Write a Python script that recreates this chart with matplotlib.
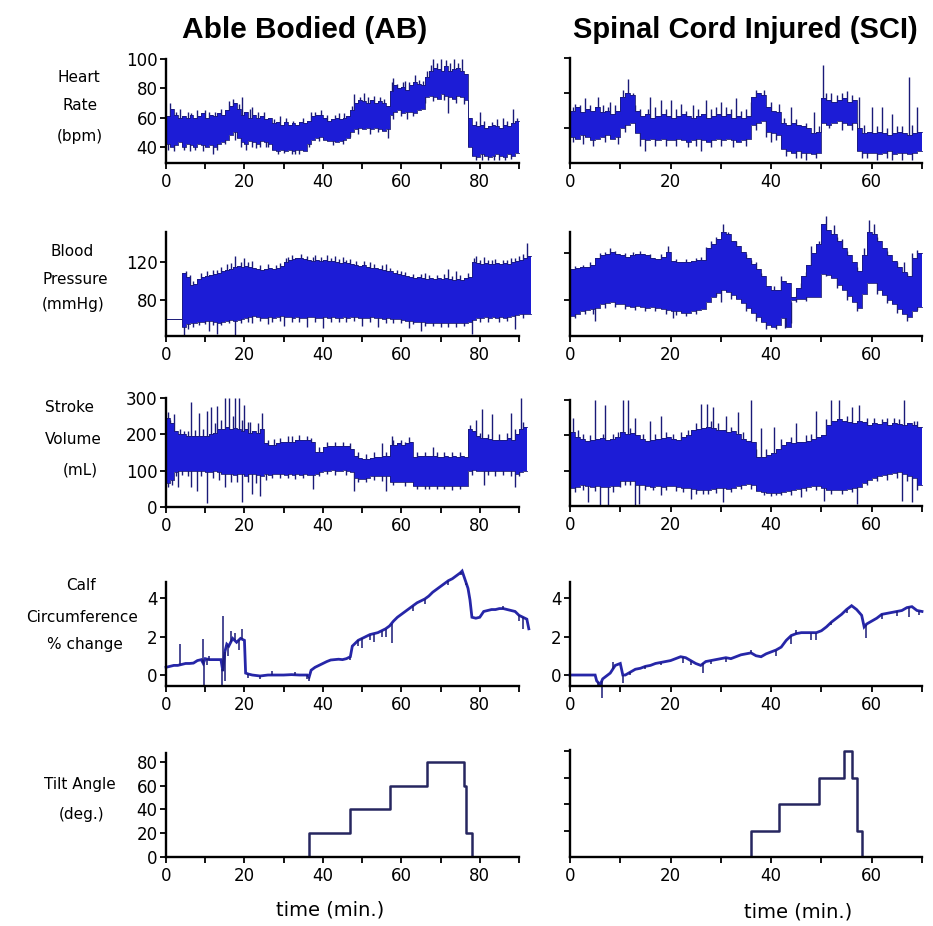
import numpy as np
import matplotlib
matplotlib.use("Agg")
import matplotlib.pyplot as plt
from matplotlib.ticker import FixedLocator

# ---------------- data ----------------
# Able Bodied, heart rate envelope per minute (t = 0..89)
hr_ab_hi = [61,66,62,60,61,60,62,60,61,63, 60,62,61,63,62,65,68,70,66,62,
            64,60,62,60,61,59,60,56,57,55, 57,55,56,55,57,56,58,61,62,62,
            60,58,59,60,59,60,61,65,70,72, 71,70,72,70,71,70,68,78,82,80,
            81,79,82,84,83,82,88,92,94,93, 92,95,92,93,94,92,90,60,55,54,
            55,53,54,55,54,53,55,54,56,58]
hr_ab_lo = [42,40,41,43,40,42,41,40,42,41, 40,41,40,42,43,45,48,50,46,43,
            42,44,43,42,44,43,42,38,37,38, 37,38,37,38,38,37,42,45,46,47,
            45,44,44,43,44,45,46,50,52,53, 52,53,52,53,52,51,52,62,64,65,
            63,64,64,63,65,66,74,75,74,73, 76,75,74,73,75,74,72,40,34,33,
            35,34,33,34,35,34,33,35,34,36]
hr_ab_spk_t = [1,3.5,8,12.5,17,19.5,22,25,29,38,44,48,50.5,53,58,61,63.5,68,70,71.5,73.5,75.5,80,86,88.5,
               12,20.5,23,26,34,56.5,61.5,72,82,85,
               2.5,5.5,6.5,10,11,14,16,18.5,21.5,23.5,27.5,30.5,32.5,35,37,39.5,41,43,45.5,47.5,49.5,51.5,54.5,55.5,
               57.5,59,60.5,62,64.5,65.5,66.5,67.5,69,72.5,74.5,79,81,83,84.5,87,89.5,
               0.5,2,4.5,6,7.5,9.5,13,15,17.5,19,22,24,25.5,28.5,30,32,33,36.5,39,42.5,45,47,49,52,54,58,60,63,
               66,68,71,74,76,79,80.5,83.5,86.5,88]
hr_ab_spk_v = [70,66,65,64,73,74,67,64,61,64,63,76,77,75,87,85,89,100,100,99,100,100,64,60,66,
               35,38,39,40,35,46,59,63,31,31,
               64,64,63,65,64,66,71,69,66,64,59,60,58,60,64,65,62,62,63,68,74,74,74,73,
               84,83,84,84,86,85,92,96,97,97,97,58,58,57,59,58,60,
               38,37,38,37,38,37,38,42,45,40,40,40,40,35,36,35,35,40,44,41,42,47,49,49,50,59,61,61,
               70,71,72,70,69,31,31,31,31,32]

# Spinal cord injured, heart rate (t = 0..69)
hr_sci_hi = [70,72,69,71,70,72,69,70,68,70, 78,80,79,70,67,68,66,67,68,67,
             66,67,68,67,66,67,68,66,67,68, 67,68,66,67,66,67,78,80,79,72,
             70,69,63,62,63,62,61,60,57,58, 77,76,75,76,77,75,76,60,57,58,
             57,58,57,56,57,58,57,56,57,58]
hr_sci_lo = [55,54,56,55,53,54,55,56,54,55, 60,62,63,57,54,53,54,53,54,53,
             53,54,53,52,53,54,53,52,53,54, 53,54,53,52,53,54,62,63,64,58,
             57,56,48,47,46,47,46,46,45,46, 63,62,63,64,63,62,63,47,46,46,
             46,45,46,47,45,46,46,45,46,47]
hr_sci_spk_t = [1,3,5.5,8,11.5,12.5,16,18,20,22,24.5,27,30,33,36,41.5,44,48.5,50.3,52,55,57.5,60,62,64,67.5,69,
                15,26,40,46,58,63,
                0.5,2,4,6.5,7.5,9,10.5,13,14,15.5,17,19,21,23,25.5,28,29,31,32,34,35,37,38.5,40,42.5,45,47,49.5,
                51,53,54,56,58.5,61,63,65,66,68,
                0.5,2.5,4.5,7,9.5,11,14,17,19,21,23.5,25,28,30,32.5,35,37,39,41,43,45,47,49,51.5,54,56,59,61,64,66,68]
hr_sci_spk_v = [74,77,78,75,88,80,78,76,76,74,73,76,75,77,75,74,72,69,96,80,81,78,72,72,68,89,72,
                47,47,52,43,43,43,
                72,73,73,73,72,73,82,73,71,71,72,71,71,70,71,71,72,72,71,70,71,82,82,75,66,65,63,61,
                80,79,80,79,62,61,60,61,61,62,
                52,51,50,52,51,58,50,50,50,50,49,50,49,50,49,50,59,55,53,44,43,42,43,60,59,59,43,42,42,42,42]

# Able Bodied, blood pressure (t = 0..92); first minutes flat before recording
bp_ab_hi = [61,61,61,61,108,104,96,97,102,104, 105,106,107,108,110,112,113,115,116,115,
            116,115,114,113,112,113,114,113,114,116, 120,122,123,124,124,123,122,121,122,121,
            122,121,121,120,119,120,119,118,117,116, 117,115,114,114,113,112,111,110,108,107,
            106,105,104,103,104,103,102,103,102,103, 102,103,102,101,102,101,103,104,120,119,
            118,119,118,118,119,118,119,118,120,121, 122,124,126]
bp_ab_lo = [61,61,61,61,52,55,56,57,58,58, 59,59,58,57,58,59,60,59,60,61,
            62,63,64,63,62,62,63,62,63,64, 63,63,62,63,62,62,63,63,62,62,
            63,62,63,62,62,63,62,63,63,62, 62,62,63,62,62,61,62,61,61,61,
            60,59,59,58,58,58,57,57,57,57, 57,56,57,56,57,56,57,58,60,62,
            62,63,62,63,62,63,62,63,64,65, 66,66,66]
bp_ab_spk_t = [6,14,15.5,17.5,20,22,29,31,33,38,41,43,45,47,52,56,60,66,72,74,79,81,83,87,89,92,
               4.5,11,13,17.5,22,26,30,36,40,50,54,62,65,70,78,89,
               5,7,9,10.5,12,13,16.5,19,21,24,26,28,30.5,32,34.5,36,37.5,39.5,42,44,46,48.5,50.5,53,55,57,59,
               61,63,65,67,69,71,73,75,77,78.5,80,82,84,86,88,90,91,
               5.5,7,8.5,10,12,14,16,19,21,24,27,29,32,34,38,42,44,46,48,52,56,58,60,63,66,68,72,74,76,80,82,85,87,91]
bp_ab_spk_v = [106,115,118,126,124,121,119,125,124,127,127,126,125,123,120,118,110,108,113,110,126,125,122,122,124,140,
               44,48,45,44,57,55,53,52,51,53,52,51,48,52,45,50,
               110,100,108,110,112,112,119,120,120,117,118,117,124,127,128,126,125,125,124,123,122,121,121,118,117,114,112,
               109,107,107,106,106,107,105,106,108,124,122,122,123,122,124,126,128,
               50,52,54,55,54,54,56,56,58,59,58,59,58,58,58,58,58,58,59,58,57,57,56,55,53,53,52,52,53,58,58,58,59,62]

# Spinal cord injured, blood pressure (t = 0..69)
bp_sci_hi = [106,107,108,108,110,116,118,119,121,119, 118,117,118,119,119,118,116,115,117,121,
             113,112,112,112,113,114,114,124,128,132, 138,136,130,126,121,116,111,106,100,92,
             88,88,96,94,82,90,100,110,120,128, 145,140,136,130,124,118,112,105,118,138,
             136,130,124,118,113,108,104,100,116,120]
bp_sci_lo = [66,68,70,71,72,73,76,77,78,76, 76,75,74,75,74,73,74,73,72,71,
             70,70,69,69,70,71,72,78,82,86, 88,87,84,81,77,73,69,65,61,58,
             57,58,64,57,80,81,81,82,82,82, 102,101,99,93,88,83,78,73,85,94,
             94,88,84,80,76,72,68,65,70,74]
bp_sci_spk_t = [8,19.5,27,30.5,37,40.5,42,48,49.5,51,52.5,54,59.5,60.5,66.5,68,
                5,20.5,30,42.7,44,51,
                1,2.5,4,6,7,9,11,12.5,14,16,18,21,23,25,26,28,29,31.5,33,35,36,38,46,47,53,55,57,58.5,61,63,65,67,69,
                1,3,4.5,7,9,11,13,15,17,19,21,23,25,29,32,35,37,39,41,45,47,53,55,57,61,63,65,67,69]
bp_sci_spk_v = [124,126,125,145,112,92,100,126,130,152,144,132,148,145,112,120,
                62,64,78,56,60,100,
                109,110,112,120,121,122,120,121,122,119,119,115,115,116,117,130,134,138,130,119,114,103,94,104,134,122,108,124,134,122,112,103,123,
                64,68,68,73,74,72,71,70,70,68,67,66,68,83,81,70,62,55,55,78,79,90,80,70,85,77,69,62,71]

# Able Bodied, stroke volume (t = 0..91)
sv_ab_hi = [245,230,210,200,200,195,195,195,195,195, 195,200,205,215,215,220,215,218,215,210,
            215,205,210,205,215,175,172,172,175,178, 180,180,178,185,185,185,185,180,150,152,
            165,168,168,168,168,168,168,160,140,135, 132,132,135,138,138,140,140,172,172,175,
            172,175,180,138,140,140,140,140,140,138, 138,140,138,140,138,140,138,215,210,195,
            190,190,188,185,185,185,185,190,185,200, 215,220]
sv_ab_lo = [65,75,95,98,100,98,100,98,100,98, 95,95,98,95,90,92,90,88,90,92,
            85,92,90,88,85,90,88,90,92,90, 88,90,88,90,88,90,88,88,92,95,
            100,100,102,100,100,102,100,95,80,78, 78,80,85,85,85,85,85,70,68,68,
            68,68,70,58,58,58,57,58,58,58, 58,58,57,58,58,57,58,100,102,100,
            100,100,100,100,98,100,100,100,98,90, 95,100]
sv_ab_spk_t = [0.5,2,6.5,8.5,10.5,11.5,13,15,16,17.5,18.5,20,21.5,24.5,31,37,55,57.5,61,68,79,80.5,83,88,90.5,
               1.5,3,6.5,8,10.5,15,19.5,22,24,37.5,48,56,66,81,89,
               1,3.5,4.5,5.5,7.5,9.5,12.5,14,17,19.5,21,23.5,26,27.5,29,32,34,36,39,41,43,45,47,49,51,53,56,
               58,60,62,64,66,69,71,73,75,77.5,80,82,85,87,89,91,
               0.5,2.5,4,5.5,9,12,13.5,16.5,18,21,23,25.5,27,29,31,33,35,39,41,43,46,49,51,53,55,58,61,64,67,69,
               71,73,75,78,82,84,86,88,90]
sv_ab_spk_v = [262,255,290,260,265,275,278,300,300,300,300,280,235,258,195,190,175,195,178,165,240,270,255,260,300,
               60,55,55,45,10,55,15,35,30,50,45,45,50,60,55,
               240,215,210,210,212,215,230,240,250,240,235,230,185,188,190,195,198,195,165,180,180,178,175,150,145,150,152,
               185,185,192,152,150,152,152,150,152,225,205,200,200,203,215,235,
               55,85,88,85,85,80,75,70,70,70,65,75,80,80,80,78,80,85,90,88,88,70,68,75,72,60,58,50,50,50,
               50,48,50,88,88,85,88,85,85]

# Spinal cord injured, stroke volume (t = 0..69)
sv_sci_hi = [210,195,190,185,188,190,192,188,190,195, 210,205,208,200,190,185,188,190,192,195,
             190,188,195,200,215,218,222,225,220,215, 215,210,212,205,190,185,180,138,140,145,
             150,162,172,180,178,182,180,185,190,195, 200,230,240,245,240,238,235,240,238,230,
             235,232,238,230,235,232,230,235,230,225]
sv_sci_lo = [50,55,60,58,55,56,55,55,56,58, 70,72,70,60,60,58,55,56,55,58,
             56,55,52,50,48,46,45,45,48,50, 50,48,52,58,60,62,60,42,40,38,
             38,38,40,42,45,48,50,55,56,58, 50,45,45,46,45,48,50,55,65,75,
             80,85,88,90,92,95,90,85,80,60]
sv_sci_spk_t = [0.5,5,7,10.5,11.5,13,16,18,26,27.2,28.5,31,33.5,36,38,40.5,45,49,52,53.5,56,57.5,62,66.5,68.5,
                3.5,6,7.5,13,13.8,18,24,30.5,41,46,50.5,57,66,68,
                1.5,2.5,4,6.5,8.5,9.5,12,14.5,17,19,20.5,22,23.5,25,28,29.5,32,34.5,37,39,42,44,47,48,51,55,59,60.5,
                63,64.5,65.5,69,
                1,2.5,5,8.5,10,11,12,15,16.5,19,21,22.5,25,26.5,27.5,29,32,34,36,38.5,40,42,44,47,49,52,54,56,59,61,
                63,65,67,69]
sv_sci_spk_v = [250,300,285,300,300,250,240,255,290,290,280,255,265,300,220,225,235,270,300,300,280,285,245,300,240,
                10,0,0,0,5,30,20,10,30,25,15,5,15,10,
                215,205,200,205,205,210,220,205,205,210,205,210,215,235,240,235,225,210,160,160,190,195,200,205,245,255,250,250,
                248,250,245,240,
                40,45,42,40,55,60,60,45,45,45,42,40,35,35,35,38,40,48,48,30,28,30,32,42,45,35,35,40,60,70,
                75,80,70,45]

# Calf circumference % change
calf_ab_t = [0,1,2,3,4,5,6,7,8,9,9.5,10,11,12,13,14,14.5,15,15.5,16,17,18,19,20,20.3,
             21,22,24,26,28,30,32,34,36,36.5,37,38,39,40,41,42,43,44,45,46,47,47.5,48,49,50,
             51,52,53,54,55,56,57,58,59,60,61,62,63,64,65,66,67,68,69,70,71,72,73,74,75,75.5,
             76,77,77.5,78,79,80,81,82,83,84,85,86,87,88,89,90,91,92,92.5]
calf_ab_v = [0.4,0.45,0.5,0.5,0.55,0.6,0.6,0.62,0.75,0.8,0.6,0.85,0.8,0.8,0.8,0.8,0.2,1.2,1.6,1.5,1.9,1.7,1.9,1.8,0.1,
             0.05,0.0,-0.05,0.0,0.0,0.0,0.02,0.0,0.0,-0.1,0.25,0.4,0.5,0.6,0.7,0.78,0.8,0.82,0.8,0.85,0.95,1.5,1.6,1.8,1.9,
             2.0,2.1,2.15,2.2,2.3,2.4,2.55,2.8,3.0,3.15,3.3,3.45,3.6,3.75,3.85,3.95,4.1,4.3,4.45,4.6,4.75,4.9,5.0,5.15,5.3,5.4,
             5.1,4.5,3.9,3.0,2.95,3.0,3.3,3.35,3.4,3.4,3.45,3.45,3.4,3.35,3.3,3.1,3.0,2.9,2.4]
calf_ab_spk_t = [3.5,9.5,9.6,14.5,14.4,15,16.5,19.5,36.5,47,50,53,55,57.5,86,91,
                 10.5,11,15.8,17.5,18.5,21,24,27,33,36,49,52,56,63,66,72,75.2,76.5,90]
calf_ab_spk_v = [1.6,1.85,-0.5,3.05,-0.55,-0.3,2.3,2.4,-0.3,0.8,1.4,1.7,2.0,1.65,3.6,2.4,
                 0.5,1.0,1.0,2.2,1.3,-0.15,-0.2,0.2,0.15,-0.2,1.5,1.8,2.0,3.3,3.7,4.7,5.2,4.7,2.8]

calf_sci_t = [0,5,5.3,6,6.5,7,8,9,10,10.5,11,12,13,14,15,16,17,18,19,20,21,22,23,24,25,26,27,28,29,30,
              31,32,33,34,35,36,37,38,39,40,41,42,43,44,45,46,47,48,49,50,51,52,53,54,55,56,57,58,58.5,
              59,60,61,62,63,64,65,66,67,68,69,70]
calf_sci_v = [0,0,-0.3,-0.5,-0.2,-0.1,0.1,0.5,0.6,0.0,0.0,0.15,0.3,0.35,0.45,0.5,0.6,0.65,0.7,0.75,0.85,0.95,0.9,0.75,0.6,0.5,0.7,0.75,0.8,0.85,
              0.9,0.85,0.95,1.05,1.1,1.15,1.0,0.95,1.1,1.2,1.3,1.45,1.8,2.05,2.15,2.2,2.2,2.2,2.2,2.3,2.5,2.75,2.95,3.15,3.4,3.6,3.4,3.1,2.5,
              2.65,2.8,2.95,3.15,3.2,3.25,3.3,3.35,3.5,3.55,3.35,3.3]
calf_sci_spk_t = [6.3,8.5,10.5,26.5,44,48,49,58.8,67.5,
                  5.5,12,15,18,22.5,24,28,31,36,41,45,52,55,62,65,69.5]
calf_sci_spk_v = [-1.2,0.7,-0.4,0.1,1.6,1.8,1.8,1.9,3.0,
                  -0.6,0.0,0.3,0.5,0.6,0.5,0.55,0.7,1.3,1.0,2.35,2.6,3.2,2.9,3.05,3.1]

# Tilt angle protocol (step changes)
tilt_ab_t = [0,36.5,47,57,66.5,76,76.6,78,93]
tilt_ab_v = [0,20,40,60,80,60,20,0,0]
tilt_sci_t = [0,36,41.5,49.5,54.5,56,57,58,70]
tilt_sci_v = [0,20,40,60,80,60,20,0,0]

# ---------------- drawing ----------------
W, H = 933, 926
fig = plt.figure(figsize=(W / 100, H / 100), dpi=100)
fig.patch.set_facecolor("white")

FILL = "#1c1cd6"
EDGE = "#1a1a78"
LINE = "#2626a8"
TILT = "#262660"
TICKFONT = dict(family="DejaVu Sans", size=12)
LBLFONT = dict(family="DejaVu Sans", size=11)


def add_ax(x0, x1, ytop, ybot):
    return fig.add_axes([x0 / W, 1 - ybot / H, (x1 - x0) / W, (ybot - ytop) / H])


def style(ax, xlim, ylim, xmaj, xmin, yt, ylabels=True):
    ax.set_xlim(*xlim)
    ax.set_ylim(*ylim)
    for s in ("top", "right"):
        ax.spines[s].set_visible(False)
    for s in ("left", "bottom"):
        ax.spines[s].set_linewidth(1.7)
        ax.spines[s].set_color("black")
        ax.spines[s].set_zorder(5)
    ax.xaxis.set_major_locator(FixedLocator(xmaj))
    ax.xaxis.set_minor_locator(FixedLocator(xmin))
    ax.yaxis.set_major_locator(FixedLocator(yt))
    ax.tick_params(which="both", direction="out", length=4, width=1.3, colors="black")
    ax.tick_params(axis="x", pad=3)
    ax.tick_params(axis="y", pad=2)
    ax.set_xticklabels([str(v) for v in xmaj], **TICKFONT)
    if ylabels:
        ax.set_yticklabels([str(v) for v in yt], **TICKFONT)
    else:
        ax.set_yticklabels([])
    ax.patch.set_alpha(0)


def band(ax, lo, hi, spk_t, spk_v):
    lo = np.asarray(lo, float)
    hi = np.asarray(hi, float)
    t = np.arange(len(lo) + 1)
    lo_e = np.append(lo, lo[-1])
    hi_e = np.append(hi, hi[-1])
    # spikes drawn beneath the band, so only the part outside it shows
    mid = np.interp(spk_t, t[:-1] + 0.5, (lo + hi) / 2)
    vl = ax.vlines(spk_t, mid, spk_v, color=EDGE, lw=1.0, zorder=1)
    vl.set_clip_on(False)
    pc = ax.fill_between(t, lo_e, hi_e, step="post", color=FILL, lw=0, zorder=2)
    pc.set_clip_on(False)
    for arr in (lo_e, hi_e):
        ln, = ax.step(t, arr, where="post", color=EDGE, lw=0.6, zorder=3)
        ln.set_clip_on(False)


def line(ax, t, v, spk_t, spk_v):
    ln, = ax.plot(t, v, color=LINE, lw=2.0, solid_joinstyle="miter")
    ln.set_clip_on(False)
    base = np.interp(spk_t, t, v)
    vl = ax.vlines(spk_t, base, spk_v, color=EDGE, lw=1.1)
    vl.set_clip_on(False)


LX0, LX1 = 166, 519
RX0, RX1 = 570, 922
LXLIM, RXLIM = (0, 90), (0, 70)
LMAJ, LMIN = [0, 20, 40, 60, 80], [10, 30, 50, 70, 90]
RMAJ, RMIN = [0, 20, 40, 60], [10, 30, 50, 70]

# Row 1: heart rate
ax = add_ax(LX0, LX1, 59, 163)
band(ax, hr_ab_lo, hr_ab_hi, hr_ab_spk_t, hr_ab_spk_v)
style(ax, LXLIM, (29, 100), LMAJ, LMIN, [40, 60, 80, 100])
ax = add_ax(RX0, RX1, 58, 163)
band(ax, hr_sci_lo, hr_sci_hi, hr_sci_spk_t, hr_sci_spk_v)
style(ax, RXLIM, (40, 100), RMAJ, RMIN, [60, 80, 100], ylabels=False)

# Row 2: blood pressure
ax = add_ax(LX0, LX1, 232, 336)
band(ax, bp_ab_lo, bp_ab_hi, bp_ab_spk_t, bp_ab_spk_v)
style(ax, LXLIM, (43, 151), LMAJ, LMIN, [80, 120])
ax = add_ax(RX0, RX1, 232, 336)
band(ax, bp_sci_lo, bp_sci_hi, bp_sci_spk_t, bp_sci_spk_v)
style(ax, RXLIM, (49, 138), RMAJ, RMIN, [80, 120], ylabels=False)

# Row 3: stroke volume
ax = add_ax(LX0, LX1, 398, 507)
band(ax, sv_ab_lo, sv_ab_hi, sv_ab_spk_t, sv_ab_spk_v)
style(ax, LXLIM, (0, 300), LMAJ, LMIN, [0, 100, 200, 300])
ax = add_ax(RX0, RX1, 400, 506)
band(ax, sv_sci_lo, sv_sci_hi, sv_sci_spk_t, sv_sci_spk_v)
style(ax, RXLIM, (0, 300), RMAJ, RMIN, [100, 200, 300], ylabels=False)

# Row 4: calf circumference
ax = add_ax(LX0, LX1, 582, 686)
line(ax, calf_ab_t, calf_ab_v, calf_ab_spk_t, calf_ab_spk_v)
style(ax, LXLIM, (-0.57, 4.83), LMAJ, LMIN, [0, 2, 4])
ax = add_ax(RX0, RX1, 582, 686)
line(ax, calf_sci_t, calf_sci_v, calf_sci_spk_t, calf_sci_spk_v)
style(ax, RXLIM, (-0.57, 4.83), RMAJ, RMIN, [0, 2, 4])

# Row 5: tilt angle
ax = add_ax(LX0, LX1, 753, 857)
ax.step(tilt_ab_t, tilt_ab_v, where="post", color=TILT, lw=1.8)
style(ax, LXLIM, (0, 87.5), LMAJ, LMIN, [0, 20, 40, 60, 80])
ax = add_ax(RX0, RX1, 750, 857)
ax.step(tilt_sci_t, tilt_sci_v, where="post", color=TILT, lw=1.8)
style(ax, RXLIM, (0, 81), RMAJ, RMIN, [20, 40, 60, 80], ylabels=False)


def ftext(x, y, s, **kw):
    fig.text(x / W, 1 - y / H, s, ha="center", va="center", **kw)


# Column titles
ftext(305, 30, "Able Bodied (AB)", family="Liberation Sans", weight="bold", size=21.5)
fig.text(573 / W, 1 - 30 / H, "Spinal Cord Injured (SCI)", ha="left", va="center",
         family="Liberation Sans", weight="bold", size=21)

# Row labels
for (x, y, s) in [(79, 77, "Heart"), (80, 106, "Rate"), (80, 137, "(bpm)"),
                  (72, 252, "Blood"), (75, 279, "Pressure"), (73, 305, "(mmHg)"),
                  (70, 408, "Stroke"), (73, 440, "Volume"), (80, 470, "(mL)"),
                  (81, 585, "Calf"), (82, 617, "Circumference"), (85, 645, "% change"),
                  (80, 785, "Tilt Angle"), (82, 815, "(deg.)")]:
    ftext(x, y, s, **LBLFONT)

# Axis titles
ftext(330, 910, "time (min.)", family="DejaVu Sans", size=14)
ftext(798, 912, "time (min.)", family="DejaVu Sans", size=14)

fig.savefig("out.png", dpi=100, facecolor="white")
